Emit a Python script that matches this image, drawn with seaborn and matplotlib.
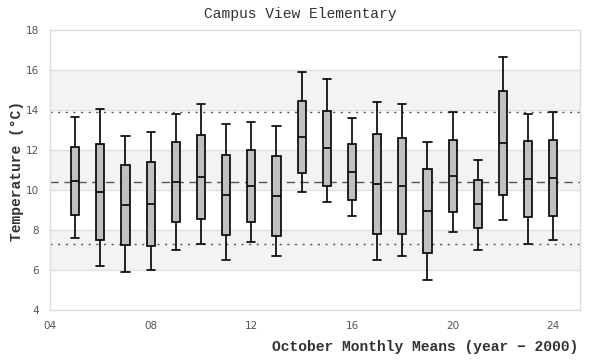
import numpy as np
import pandas as pd
import seaborn as sns
import matplotlib.pyplot as plt

# Box statistics (deg C), one entry per year (year - 2000)
years = list(range(5, 25))
lows = [7.58, 6.18, 5.88, 5.98, 6.98, 7.28, 6.48, 7.38, 6.68, 9.88,
        9.38, 8.68, 6.48, 6.68, 5.48, 7.88, 6.98, 8.48, 7.28, 7.48]
q1s = [8.73, 7.48, 7.23, 7.18, 8.38, 8.53, 7.73, 8.38, 7.68, 10.83,
       10.18, 9.48, 7.78, 7.78, 6.83, 8.88, 8.08, 9.73, 8.63, 8.68]
medians = [10.43, 9.88, 9.23, 9.28, 10.38, 10.63, 9.73, 10.18, 9.68, 12.63,
           12.08, 10.88, 10.28, 10.18, 8.93, 10.68, 9.28, 12.33, 10.53, 10.58]
q3s = [12.13, 12.28, 11.23, 11.38, 12.38, 12.73, 11.73, 11.98, 11.68, 14.43,
       13.97, 12.28, 12.78, 12.58, 11.03, 12.48, 10.48, 14.93, 12.43, 12.48]
highs = [13.67, 14.07, 12.68, 12.88, 13.78, 14.28, 13.28, 13.38, 13.18, 15.88,
         15.57, 13.58, 14.38, 14.28, 12.38, 13.88, 11.48, 16.67, 13.78, 13.88]

# Reference lines
upper_ref = 13.88
mean_ref = 10.38
lower_ref = 7.3

# Five points per year reproduce the quartiles exactly
rows = []
for i, yr in enumerate(years):
    for v in (lows[i], q1s[i], medians[i], q3s[i], highs[i]):
        rows.append({"year": yr, "temp": v})
data = pd.DataFrame(rows)

sns.set_style("white")
MONO = ["Liberation Mono", "DejaVu Sans Mono"]
TXT = "#333333"

fig = plt.figure(figsize=(6, 3.6), dpi=100)
ax = fig.add_axes([50 / 600, 1 - 310 / 360, 530 / 600, 280 / 360])

for lo in (6, 10, 14):
    ax.axhspan(lo, lo + 2, color="#f3f3f3", zorder=0, lw=0)
for y in range(6, 18, 2):
    ax.axhline(y, color="#e0e0e0", lw=1, zorder=0.5)

ax.axhline(upper_ref, color="#555555", lw=1, ls=(0, (1.5, 4)), zorder=1)
ax.axhline(lower_ref, color="#555555", lw=1, ls=(0, (1.5, 4)), zorder=1)
ax.axhline(mean_ref, color="#555555", lw=1, ls=(0, (6, 4)), zorder=1)

sns.boxplot(data=data, x="year", y="temp", native_scale=True, whis=np.inf,
            width=0.32, color="#c0c0c0", saturation=1, linecolor="black",
            linewidth=1.2, capwidths=0.32, ax=ax, zorder=2)

ax.set_xlim(4, 25.06)
ax.set_ylim(4, 18)
ax.set_xticks([4, 8, 12, 16, 20, 24])
ax.set_xticklabels(["04", "08", "12", "16", "20", "24"])
ax.set_yticks(range(4, 19, 2))
ax.tick_params(axis="both", length=0, labelsize=7.5, colors="#555555")
ax.tick_params(axis="x", pad=8)
ax.tick_params(axis="y", pad=8)
ax.set_xlabel("")
ax.set_ylabel("")
for s in ax.spines.values():
    s.set_color("#dddddd")
    s.set_linewidth(1)

fig.text(0.5, 1 - 14 / 360, "Campus View Elementary", family=MONO,
         fontsize=10.5, color=TXT, ha="center", va="center")
fig.text(578 / 600, 1 - 347 / 360, "October Monthly Means (year \u2212 2000)",
         family=MONO, fontsize=10.5, color=TXT, ha="right", va="center",
         fontweight="bold")
fig.text(17 / 600, 1 - 171 / 360, "Temperature (\u00b0C)", family=MONO,
         fontsize=10.5, color=TXT, ha="center", va="center", rotation=90,
         fontweight="bold")

fig.savefig("out.png", dpi=100)
